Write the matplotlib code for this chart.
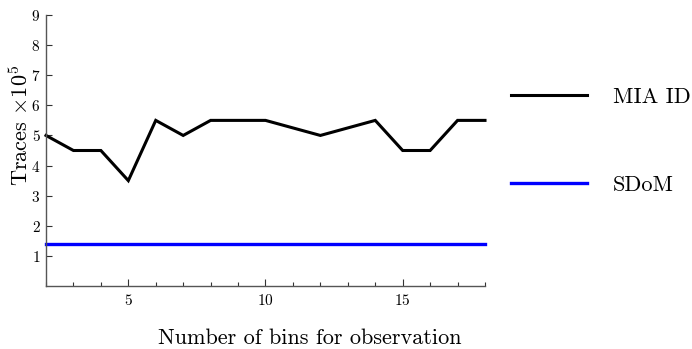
import matplotlib
matplotlib.use("Agg")
import matplotlib.pyplot as plt
from matplotlib.lines import Line2D

plt.rcParams["font.family"] = ["cmr10", "DejaVu Serif"]
plt.rcParams["mathtext.fontset"] = "cm"
plt.rcParams["axes.formatter.use_mathtext"] = True

bins = [2, 3, 4, 5, 6, 7, 8, 9, 10, 11, 12, 13, 14, 15, 16, 17, 18]
mia_id = [5.0, 4.5, 4.5, 3.5, 5.5, 5.0, 5.5, 5.5, 5.5, 5.25, 5.0, 5.25, 5.5, 4.5, 4.5, 5.5, 5.5]
sdom = 1.4
y_ticks = [1, 2, 3, 4, 5, 6, 7, 8, 9]
x_major = [5, 10, 15]

fig = plt.figure(figsize=(6.92, 3.49), dpi=100)
ax = fig.add_axes([46 / 692, 63 / 349, 439 / 692, 271 / 349])

ax.plot(bins, mia_id, color="black", lw=2.2, solid_joinstyle="miter", clip_on=False)
ax.plot([bins[0], bins[-1]], [sdom, sdom], color="#0000ff", lw=2.4, clip_on=False)

ax.set_xlim(2, 18)
ax.set_ylim(0, 9)
for s in ["top", "right"]:
    ax.spines[s].set_visible(False)
for s in ["left", "bottom"]:
    ax.spines[s].set_color("#555555")
    ax.spines[s].set_linewidth(1.0)

ax.set_xticks(x_major)
ax.set_xticks(range(2, 19), minor=True)
ax.set_yticks(y_ticks)
ax.tick_params(axis="both", which="major", direction="in", length=5, width=0.8,
               color="#333333", labelsize=11, pad=5)
ax.tick_params(axis="x", which="minor", direction="in", length=3, width=0.8, color="#333333")
ax.tick_params(axis="y", which="major", length=4, pad=4)

ax.set_xlabel("Number of bins for observation", fontsize=16)
ax.xaxis.set_label_coords(0.60, -0.155)
ax.set_ylabel(r"Traces $\times 10^5$", fontsize=16)
ax.yaxis.set_label_coords(-0.033, 0.594)

handles = [Line2D([], [], color="black", lw=2.2), Line2D([], [], color="#0000ff", lw=2.4)]
fig.legend(handles, ["MIA ID", "SDoM"], loc="center left",
           bbox_to_anchor=(491 / 692, 1 - 141 / 349), frameon=False, fontsize=16,
           handlelength=3.4, handletextpad=1.2, labelspacing=3.1)

fig.savefig("out.png", dpi=100)
